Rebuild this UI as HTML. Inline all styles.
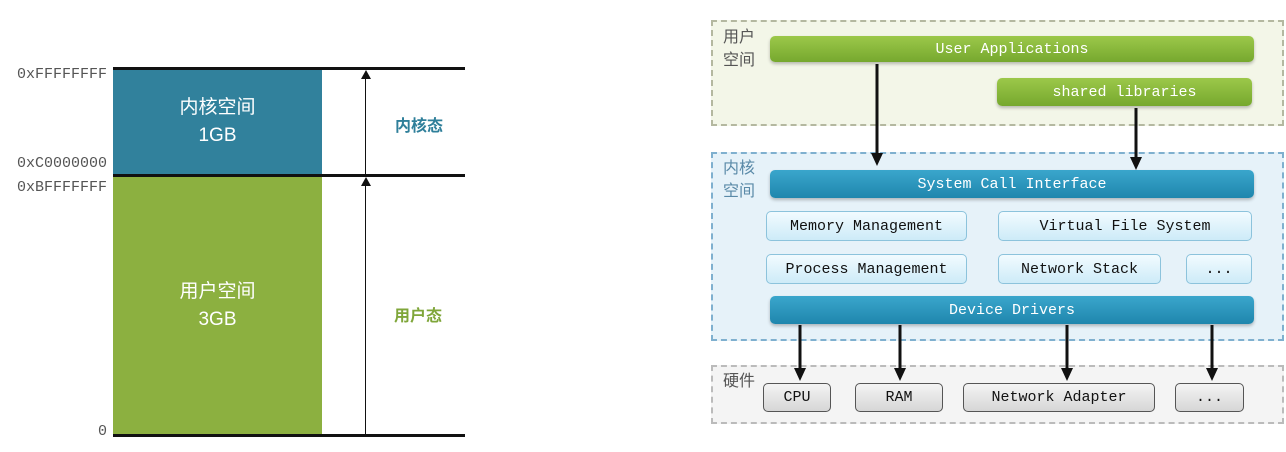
<!DOCTYPE html>
<html><head><meta charset="utf-8"><style>
body{margin:0;width:1286px;height:452px;background:#fff;position:relative;overflow:hidden;font-family:"Liberation Sans","Noto Sans CJK SC",sans-serif}
div{position:absolute;box-sizing:border-box}
.hex{font-family:"Liberation Mono",monospace;font-size:15px;color:#555;right:1179px;text-align:right;white-space:nowrap}
.hl{height:3px;background:#111;left:113px;width:352px}
.mono{font-family:"Liberation Mono","Noto Sans CJK SC",monospace;font-size:15px;display:flex;align-items:center;justify-content:center;white-space:nowrap}
.grn{background:linear-gradient(#9cc84a,#76a82e);color:#fff;border-radius:5px;box-shadow:0 2px 3px rgba(0,0,0,.25)}
.blu{background:linear-gradient(#3aa6cc,#1f86ad);color:#fff;border-radius:5px;box-shadow:0 2px 3px rgba(0,0,0,.25)}
.lb{background:linear-gradient(#f2fbff,#cdebf8);color:#111;border:1px solid #8cc3dc;border-radius:5px}
.gr{background:linear-gradient(#f4f4f4,#d6d6d6);color:#111;border:1px solid #555;border-radius:5px}
.cj{font-size:16px;color:#555;line-height:23px}
</style></head><body>
<div class="hex" style="top:66px">0xFFFFFFFF</div>
<div class="hex" style="top:155px">0xC0000000</div>
<div class="hex" style="top:179px">0xBFFFFFFF</div>
<div class="hex" style="top:423px">0</div>
<div style="left:113px;top:69px;width:209px;height:107px;background:#31819c;color:#fff;font-size:19px;text-align:center;padding-top:25px;line-height:28px">内核空间<br>1GB</div>
<div style="left:113px;top:176px;width:209px;height:260px;background:#8cb040;color:#fff;font-size:19px;text-align:center;padding-top:102px;line-height:28px">用户空间<br>3GB</div>
<div class="hl" style="top:67px"></div>
<div class="hl" style="top:174px"></div>
<div class="hl" style="top:434px"></div>
<div style="left:365px;top:72px;width:1px;height:102px;background:#111"></div>
<div style="left:361px;top:70px;border-left:5px solid transparent;border-right:5px solid transparent;border-bottom:9px solid #111;width:0"></div>
<div style="left:365px;top:179px;width:1px;height:256px;background:#111"></div>
<div style="left:361px;top:177px;border-left:5px solid transparent;border-right:5px solid transparent;border-bottom:9px solid #111;width:0"></div>
<div style="left:395px;top:112px;font-size:16px;font-weight:bold;color:#2f7f9a">内核态</div>
<div style="left:394px;top:302px;font-size:16px;font-weight:bold;color:#7fa63a">用户态</div>

<div style="left:711px;top:20px;width:573px;height:106px;border:2px dashed #b4b8a0;background:#f3f6e8"></div>
<div style="left:711px;top:152px;width:573px;height:189px;border:2px dashed #7fb0cf;background:#e6f2f9"></div>
<div style="left:711px;top:365px;width:573px;height:59px;border:2px dashed #bbb;background:#f4f4f4"></div>
<div class="cj" style="left:723px;top:26px">用户<br>空间</div>
<div class="cj" style="left:723px;top:157px;color:#5a8aa8">内核<br>空间</div>
<div class="cj" style="left:723px;top:370px">硬件</div>
<div class="mono grn" style="left:770px;top:36px;width:484px;height:26px">User Applications</div>
<div class="mono grn" style="left:997px;top:78px;width:255px;height:28px">shared libraries</div>
<div class="mono blu" style="left:770px;top:170px;width:484px;height:28px">System Call Interface</div>
<div class="mono lb" style="left:766px;top:211px;width:201px;height:30px">Memory Management</div>
<div class="mono lb" style="left:998px;top:211px;width:254px;height:30px">Virtual File System</div>
<div class="mono lb" style="left:766px;top:254px;width:201px;height:30px">Process Management</div>
<div class="mono lb" style="left:998px;top:254px;width:163px;height:30px">Network Stack</div>
<div class="mono lb" style="left:1186px;top:254px;width:66px;height:30px">...</div>
<div class="mono blu" style="left:770px;top:296px;width:484px;height:28px">Device Drivers</div>
<div class="mono gr" style="left:763px;top:383px;width:68px;height:29px">CPU</div>
<div class="mono gr" style="left:855px;top:383px;width:88px;height:29px">RAM</div>
<div class="mono gr" style="left:963px;top:383px;width:192px;height:29px">Network Adapter</div>
<div class="mono gr" style="left:1175px;top:383px;width:69px;height:29px">...</div>
<svg width="1286" height="452" style="position:absolute;left:0;top:0">
<g stroke="#111" stroke-width="3">
<line x1="877" y1="64" x2="877" y2="156"/>
<line x1="1136" y1="108" x2="1136" y2="160"/>
<line x1="800" y1="325" x2="800" y2="372"/>
<line x1="900" y1="325" x2="900" y2="372"/>
<line x1="1067" y1="325" x2="1067" y2="372"/>
<line x1="1212" y1="325" x2="1212" y2="372"/>
</g>
<g fill="#111">
<polygon points="871,153 883,153 877,166"/>
<polygon points="1130,157 1142,157 1136,170"/>
<polygon points="794,368 806,368 800,381"/>
<polygon points="894,368 906,368 900,381"/>
<polygon points="1061,368 1073,368 1067,381"/>
<polygon points="1206,368 1218,368 1212,381"/>
</g></svg>
</body></html>
